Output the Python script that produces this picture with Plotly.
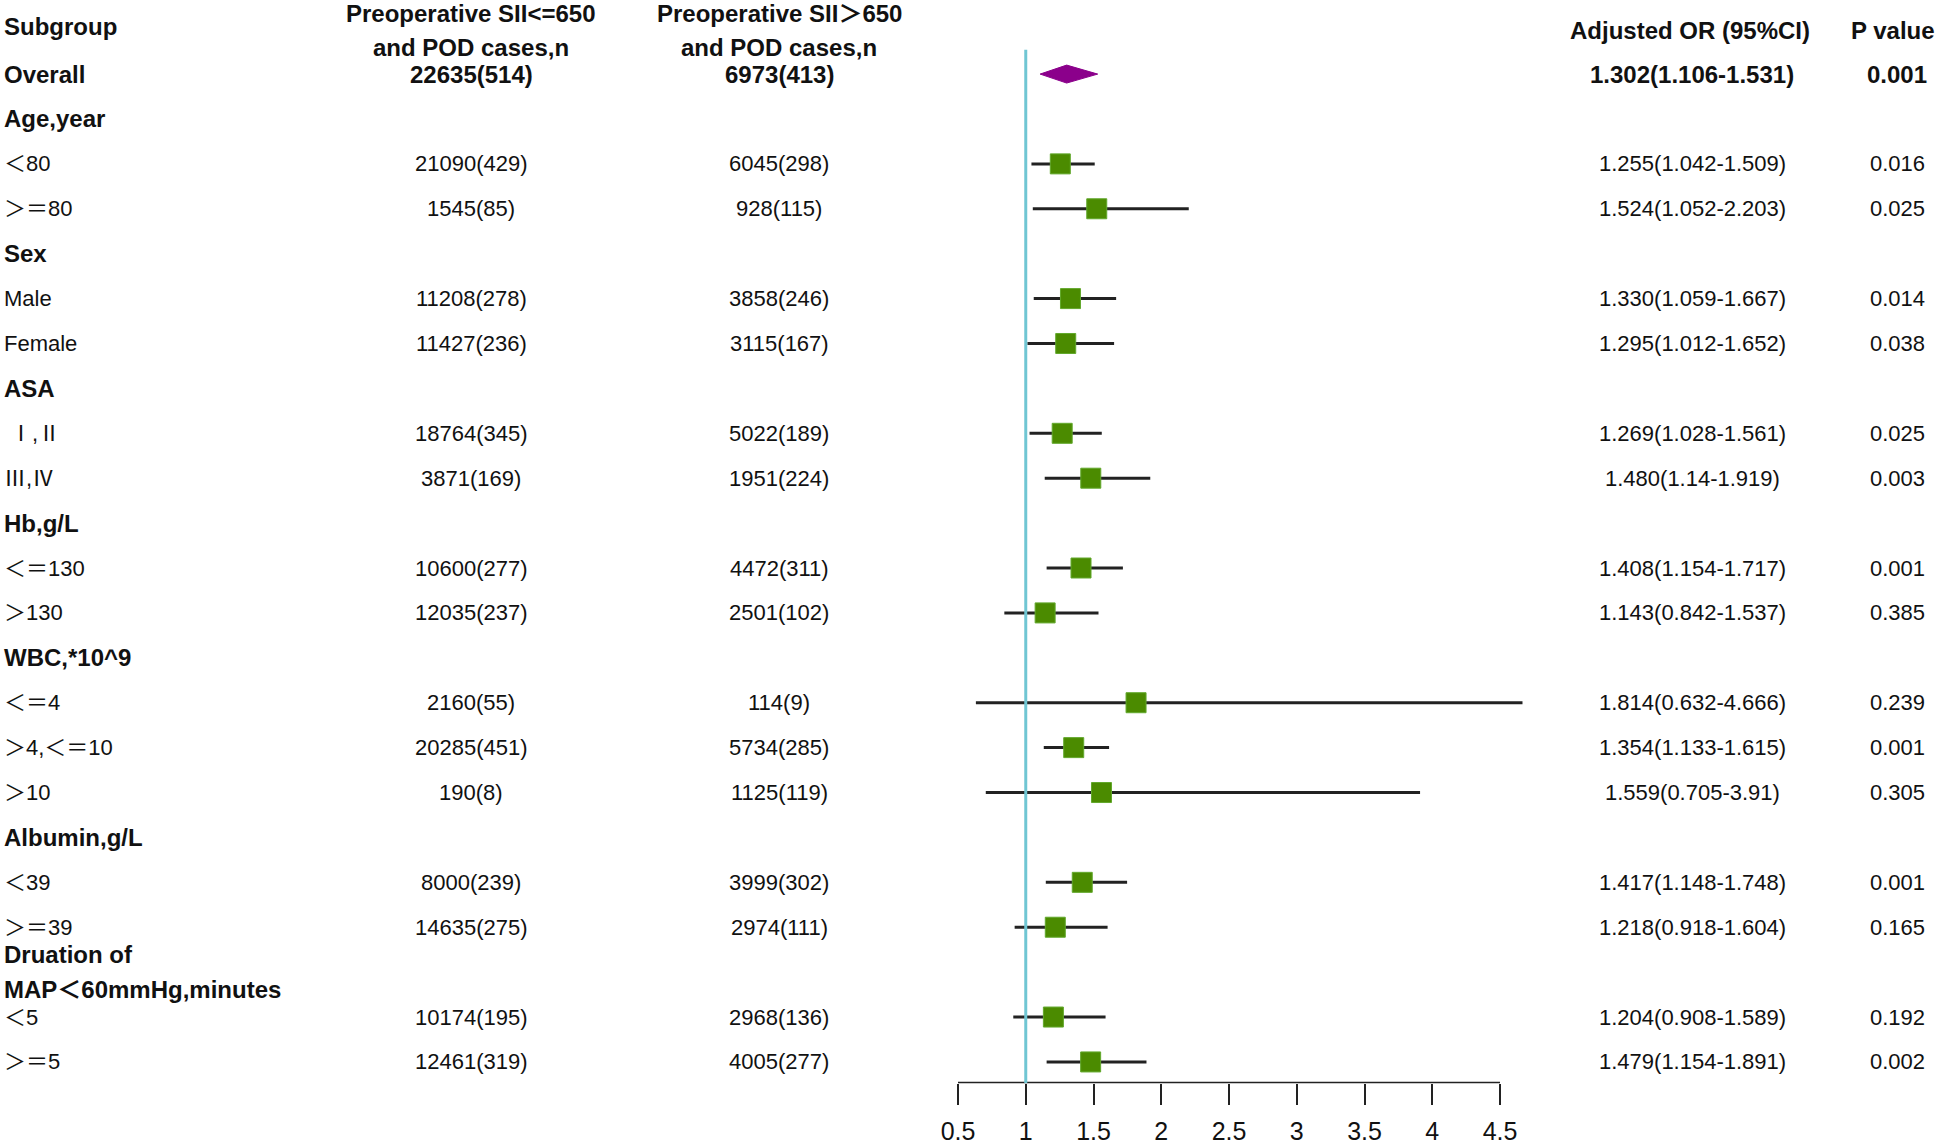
import plotly.graph_objects as go

# ---------------- data ----------------
row_labels = ["Overall", "Age,year", "＜80", "＞＝80", "Sex", "Male", "Female",
              "ASA", " Ⅰ,Ⅱ", "Ⅲ,Ⅳ", "Hb,g/L", "＜＝130", "＞130",
              "WBC,*10^9", "＜＝4", "＞4,＜＝10", "＞10", "Albumin,g/L", "＜39", "＞＝39",
              "Druation of\nMAP＜60mmHg,minutes", "＜5", "＞＝5"]
is_group = [True, True, False, False, True, False, False,
            True, False, False, True, False, False,
            True, False, False, False, True, False, False,
            True, False, False]
n_low = ["22635(514)", None, "21090(429)", "1545(85)", None, "11208(278)", "11427(236)",
         None, "18764(345)", "3871(169)", None, "10600(277)", "12035(237)",
         None, "2160(55)", "20285(451)", "190(8)", None, "8000(239)", "14635(275)",
         None, "10174(195)", "12461(319)"]
n_high = ["6973(413)", None, "6045(298)", "928(115)", None, "3858(246)", "3115(167)",
          None, "5022(189)", "1951(224)", None, "4472(311)", "2501(102)",
          None, "114(9)", "5734(285)", "1125(119)", None, "3999(302)", "2974(111)",
          None, "2968(136)", "4005(277)"]
or_est = [1.302, None, 1.255, 1.524, None, 1.330, 1.295,
          None, 1.269, 1.480, None, 1.408, 1.143,
          None, 1.814, 1.354, 1.559, None, 1.417, 1.218,
          None, 1.204, 1.479]
ci_low = [1.106, None, 1.042, 1.052, None, 1.059, 1.012,
          None, 1.028, 1.14, None, 1.154, 0.842,
          None, 0.632, 1.133, 0.705, None, 1.148, 0.918,
          None, 0.908, 1.154]
ci_high = [1.531, None, 1.509, 2.203, None, 1.667, 1.652,
           None, 1.561, 1.919, None, 1.717, 1.537,
           None, 4.666, 1.615, 3.91, None, 1.748, 1.604,
           None, 1.589, 1.891]
or_text = ["1.302(1.106-1.531)", None, "1.255(1.042-1.509)", "1.524(1.052-2.203)", None,
           "1.330(1.059-1.667)", "1.295(1.012-1.652)", None, "1.269(1.028-1.561)",
           "1.480(1.14-1.919)", None, "1.408(1.154-1.717)", "1.143(0.842-1.537)", None,
           "1.814(0.632-4.666)", "1.354(1.133-1.615)", "1.559(0.705-3.91)", None,
           "1.417(1.148-1.748)", "1.218(0.918-1.604)", None, "1.204(0.908-1.589)",
           "1.479(1.154-1.891)"]
p_values = ["0.001", None, "0.016", "0.025", None, "0.014", "0.038",
            None, "0.025", "0.003", None, "0.001", "0.385",
            None, "0.239", "0.001", "0.305", None, "0.001", "0.165",
            None, "0.192", "0.002"]
tick_vals = [0.5, 1, 1.5, 2, 2.5, 3, 3.5, 4, 4.5]
tick_text = ["0.5", "1", "1.5", "2", "2.5", "3", "3.5", "4", "4.5"]
ref_value = 1
col_headers = ["Subgroup", "Preoperative SII<=650\nand POD cases,n",
               "Preoperative SII＞650\nand POD cases,n", "Adjusted OR (95%CI)", "P value"]

# ---------------- layout constants ----------------
W, H = 1944, 1145
FONT = "Liberation Sans, Arial, Noto Sans CJK SC, sans-serif"
GREEN = "#4b8b00"
PURPLE = "#8b008b"
BLUE = "#70c6d3"
row0_px, row_px, axis_px = 74.4, 45.1, 1088
y_bottom = (axis_px - row0_px) / row_px
y_top = -row0_px / row_px

fig = go.Figure()

# subgroup squares with CI
idx = [i for i in range(1, len(row_labels)) if or_est[i] is not None]
fig.add_trace(go.Scatter(
    x=[or_est[i] for i in idx], y=[i for i in idx], mode="markers",
    marker=dict(symbol="square", size=20, color=GREEN, line=dict(color="#62a82c", width=1)),
    error_x=dict(type="data", symmetric=False,
                 array=[ci_high[i] - or_est[i] for i in idx],
                 arrayminus=[or_est[i] - ci_low[i] for i in idx],
                 color="#222222", thickness=3, width=0),
    cliponaxis=False, showlegend=False, hoverinfo="skip"))

# overall diamond
h = 0.2
fig.add_trace(go.Scatter(
    x=[ci_low[0], or_est[0], ci_high[0], or_est[0], ci_low[0]],
    y=[0, -h, 0, h, 0], mode="lines", fill="toself", fillcolor=PURPLE,
    line=dict(color=PURPLE, width=1), showlegend=False, hoverinfo="skip"))

shapes = [
    dict(type="line", xref="x", yref="y", x0=tick_vals[0], x1=tick_vals[-1],
         y0=y_bottom, y1=y_bottom, line=dict(color="#222222", width=3)),
    dict(type="line", xref="x", yref="y", x0=ref_value, x1=ref_value,
         y0=-0.54, y1=y_bottom, line=dict(color=BLUE, width=3)),
]

ann = []
def add_text(txt, xpx, r, bold=False, size=22, anchor="center"):
    if bold:
        txt = "<b>" + txt + "</b>"
    ann.append(dict(text=txt, x=xpx / W, y=r, xref="paper", yref="y",
                    xanchor=anchor, yanchor="middle", showarrow=False,
                    font=dict(family=FONT, size=size, color="#111111")))

# headers
add_text(col_headers[0], 2, -1.05, True, 24, "left")
for j, cx in [(1, 471), (2, 779)]:
    l1, l2 = col_headers[j].split("\n")
    add_text(l1, cx, -1.36, True, 24)
    add_text(l2, cx, -0.59, True, 24)
add_text(col_headers[3], 1690, -0.96, True, 24)
add_text(col_headers[4], 1893, -0.96, True, 24)

for i, lab in enumerate(row_labels):
    g = is_group[i]
    if "\n" in lab:
        a, b = lab.split("\n")
        add_text(a, 2, i - 0.39, True, 24, "left")
        add_text(b, 2, i + 0.39, True, 24, "left")
    else:
        add_text(lab, 2, i, g, 24 if g else 22, "left")
    bold = (i == 0)
    sz = 24 if bold else 22
    if n_low[i] is not None:
        add_text(n_low[i], 471, i, bold, sz)
    if n_high[i] is not None:
        add_text(n_high[i], 779, i, bold, sz)
    if or_text[i] is not None:
        add_text(or_text[i], 1692, i, bold, sz)
    if p_values[i] is not None:
        add_text(p_values[i], 1897, i, bold, sz)

x0px, x1px = 958, 1500
ppu = (x1px - x0px) / (tick_vals[-1] - tick_vals[0])
rng = [0.3, 4.8]
dom = [(x0px + (rng[0] - tick_vals[0]) * ppu) / W, (x0px + (rng[1] - tick_vals[0]) * ppu) / W]

fig.update_layout(
    width=W, height=H, margin=dict(l=0, r=0, t=0, b=0),
    paper_bgcolor="white", plot_bgcolor="white",
    xaxis=dict(domain=dom, range=rng, tickvals=tick_vals, ticktext=tick_text,
               ticks="outside", ticklen=21, tickwidth=2, tickcolor="#222222",
               showline=False, showgrid=False, zeroline=False,
               tickfont=dict(family=FONT, size=25, color="#111111"),
               ticklabelstandoff=5, fixedrange=True),
    yaxis=dict(domain=[(H - axis_px) / H, 1], range=[y_bottom, y_top], visible=False,
               showgrid=False, zeroline=False, fixedrange=True),
    shapes=shapes, annotations=ann, showlegend=False,
)

fig.write_html("out.html", config={"displayModeBar": False},
               post_script="document.body.style.margin='0';document.body.style.overflow='hidden';")
